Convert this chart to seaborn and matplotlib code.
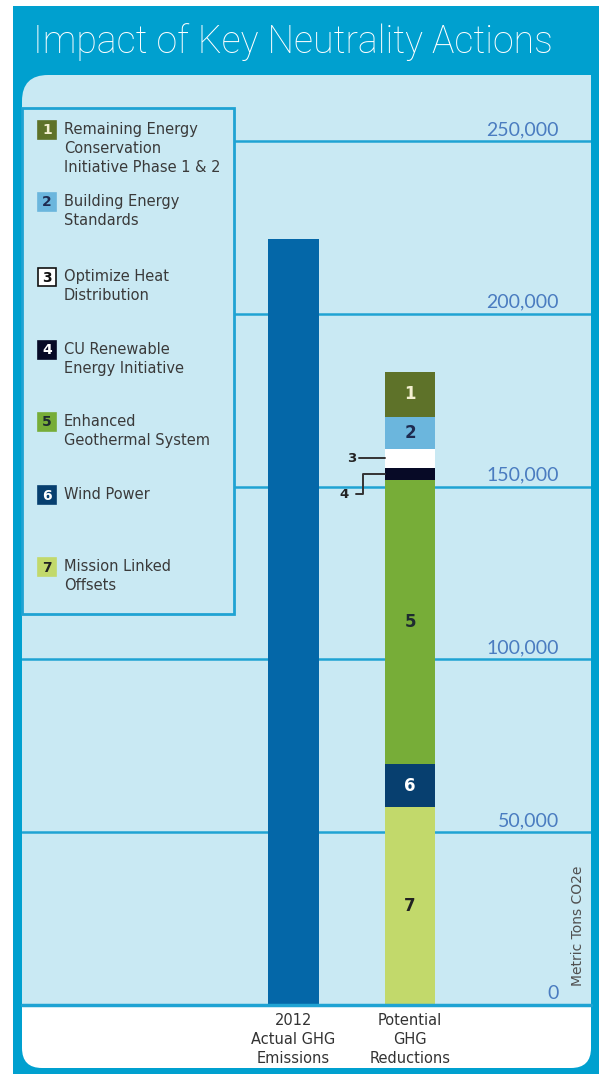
import matplotlib
matplotlib.use("Agg")
import matplotlib.pyplot as plt
from matplotlib.patches import Rectangle, FancyBboxPatch
import seaborn as sns
import pandas as pd

# data
categories = ["2012\nActual GHG\nEmissions", "Potential\nGHG\nReductions"]
actual_2012 = 221500
# actions 1..7, listed top of the stack first
action_ids = ["1", "2", "3", "4", "5", "6", "7"]
action_names = ["Remaining Energy\nConservation\nInitiative Phase 1 & 2",
                "Building Energy\nStandards",
                "Optimize Heat\nDistribution",
                "CU Renewable\nEnergy Initiative",
                "Enhanced\nGeothermal System",
                "Wind Power",
                "Mission Linked\nOffsets"]
action_values = [13000, 9300, 5500, 3500, 82200, 12400, 57300]
y_ticks = [0, 50000, 100000, 150000, 200000, 250000]
y_tick_labels = ["0", "50,000", "100,000", "150,000", "200,000", "250,000"]

# colours
frame_blue = "#00A0CF"
panel = "#C9E9F3"
grid_blue = "#1FA3D3"
bar_2012 = "#0467A8"
action_colors = ["#5E7229", "#6BB6DD", "#FFFFFF", "#070A26", "#77AD38", "#073F6F", "#C2D96B"]
number_colors = ["#F3EFD0", "#1E2B50", "#111111", "#FFFFFF", "#1E2B30", "#FFFFFF", "#222222"]
text_dark = "#3A3A3A"
tick_blue = "#4A7CC0"

sns.set_style("white")
W, H = 599, 1074
fig = plt.figure(figsize=(W / 100, H / 100), dpi=100, facecolor="white")

# background frame, pixel coordinates
bg = fig.add_axes([0, 0, 1, 1], zorder=0)
bg.set_xlim(0, W)
bg.set_ylim(H, 0)
bg.axis("off")
bg.add_patch(Rectangle((13, 6), W - 13, H - 6, color=frame_blue, lw=0))
bg.add_patch(FancyBboxPatch((22, 75), 569, 990, boxstyle="round,pad=0,rounding_size=26",
                            color=panel, lw=0))
bg.add_patch(Rectangle((300, 75), 291, 900, color=panel, lw=0))
bg.add_patch(FancyBboxPatch((22, 980), 569, 88, boxstyle="round,pad=0,rounding_size=20",
                            color="white", lw=0))
bg.add_patch(Rectangle((22, 975), 569, 30, color=panel, lw=0))
fig.text(33 / W, 1 - 53 / H, "Impact of Key Neutrality Actions", color="white",
         fontsize=27, family="Roboto", fontweight="light", ha="left", va="baseline")

# chart axes: y=0 at px 1005, 50,000 per 172.8 px
px_per_unit = 172.8 / 50000
ax = fig.add_axes([22 / W, (H - 1005) / H, 569 / W, 930 / H], zorder=1)
ax.patch.set_alpha(0)

rows = [(categories[0], "actual", actual_2012)]
for i, aid in enumerate(action_ids):
    rows.append((categories[1], aid, sum(action_values[i:])))
df = pd.DataFrame(rows, columns=["group", "layer", "top"])
palette = {"actual": bar_2012}
palette.update(dict(zip(action_ids, action_colors)))

sns.barplot(data=df, x="group", y="top", hue="layer", hue_order=["actual"] + action_ids,
            order=categories, palette=palette, dodge=False, width=0.43, saturation=1,
            linewidth=0, errorbar=None, legend=False, ax=ax)

ax.set_xlim(-271.5 / 116.5, 1 + 181 / 116.5)
ax.set_ylim(0, 930 / px_per_unit)
ax.set_xlabel("")
ax.set_ylabel("")
ax.set_yticks(y_ticks)
ax.set_yticklabels([])
ax.tick_params(axis="y", length=0)
ax.tick_params(axis="x", length=0, pad=6, labelsize=10.5, labelcolor="#333333")
for lab in ax.get_xticklabels():
    lab.set_linespacing(1.3)
ax.grid(axis="y", color=grid_blue, lw=1.8)
ax.set_axisbelow(True)
sns.despine(ax=ax, left=True, bottom=True)
ax.axhline(0, color=grid_blue, lw=2.5, clip_on=False, zorder=5)

for t, lab in zip(y_ticks, y_tick_labels):
    ax.text(0.9438, t + 1750, lab, transform=ax.get_yaxis_transform(), ha="right",
            va="baseline", fontsize=14, family="Lato", color=tick_blue)
ax.text(0.977, 0.085, "Metric Tons CO2e", transform=ax.transAxes, rotation=90,
        ha="center", va="center", fontsize=10, color="#505050")

# numbers on the stacked segments
bottoms = [sum(action_values[i + 1:]) for i in range(len(action_values))]
centers = [b + v / 2 for b, v in zip(bottoms, action_values)]
for aid, c, col in zip(action_ids, centers, number_colors):
    if aid in ("3", "4"):
        continue
    ax.text(1, c, aid, ha="center", va="center", fontsize=12, fontweight="bold", color=col,
            zorder=6)

# leader lines for the thin segments 3 and 4
bar_left = 1 - 0.43 / 2
ax.plot([0.562, bar_left], [centers[2], centers[2]], color="#333333", lw=1.4, zorder=6)
ax.text(0.502, centers[2], "3", ha="center", va="center", fontsize=9.5, fontweight="bold",
        color="#222222")
y4 = centers[3] - 5800
ax.plot([0.536, 0.597, 0.597, bar_left], [y4, y4, centers[3], centers[3]],
        color="#333333", lw=1.4, zorder=6)
ax.text(0.433, y4, "4", ha="center", va="center", fontsize=9.5, fontweight="bold",
        color="#222222")

# legend box
ov = fig.add_axes([0, 0, 1, 1], zorder=2)
ov.set_xlim(0, W)
ov.set_ylim(H, 0)
ov.axis("off")
ov.add_patch(Rectangle((22, 108), 212, 506, facecolor=panel, edgecolor=grid_blue, lw=2))
item_y = [130, 202, 277, 350, 422, 495, 567]
for aid, name, col, ncol, y in zip(action_ids, action_names, action_colors, number_colors,
                                    item_y):
    edge = "#111111" if col == "#FFFFFF" else col
    ov.add_patch(Rectangle((38, y - 9), 18, 18, facecolor=col, edgecolor=edge, lw=1.2))
    ov.text(47, y + 0.5, aid, ha="center", va="center", fontsize=10, fontweight="bold",
            color=ncol)
    ov.text(64, y - 8, name, ha="left", va="top", fontsize=10.5, color=text_dark,
            linespacing=1.35)

fig.savefig("out.png", dpi=100, facecolor="white")
